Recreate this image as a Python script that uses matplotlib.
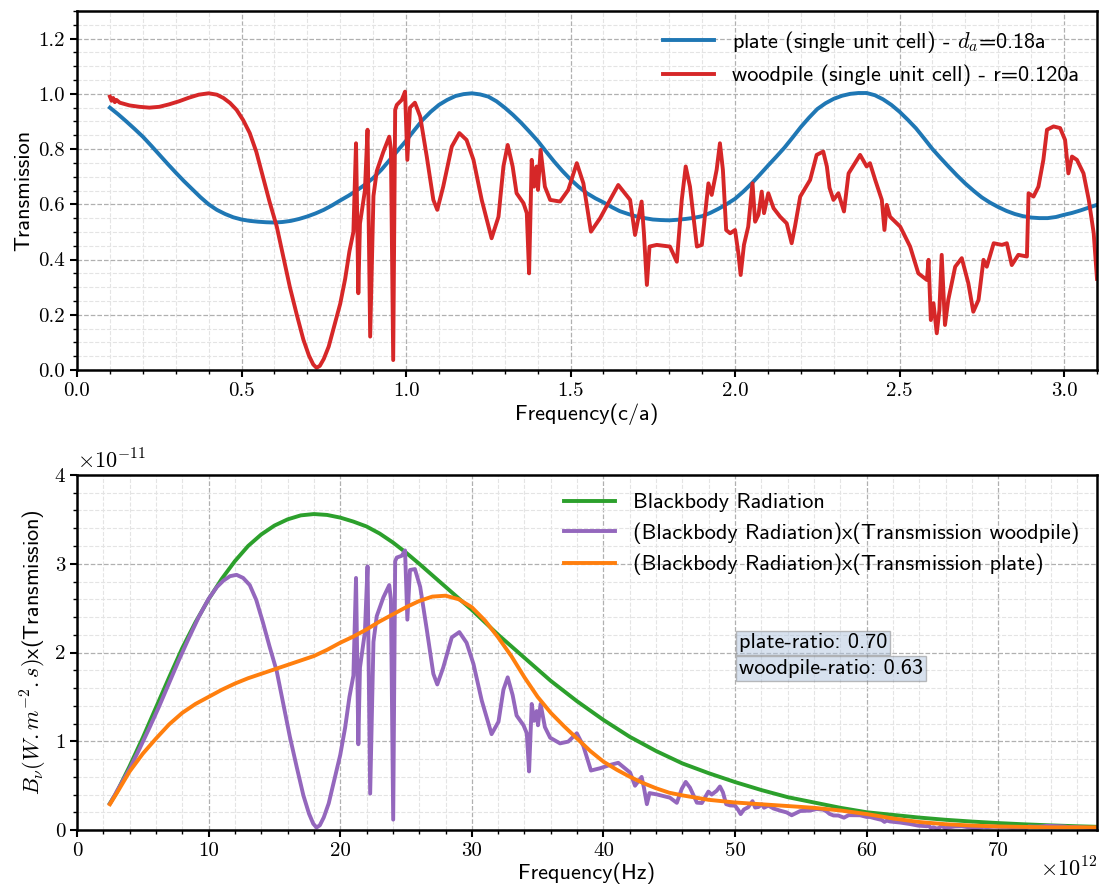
import numpy as np
import matplotlib
matplotlib.use('Agg')
import matplotlib.pyplot as plt
from matplotlib.ticker import MultipleLocator, FuncFormatter

# Transmission of the plate (c/a units)
plate_freq = [0.100, 0.125, 0.150, 0.175, 0.200, 0.225, 0.250, 0.275, 0.300, 0.325,
              0.350, 0.375, 0.400, 0.425, 0.450, 0.475, 0.500, 0.525, 0.550, 0.575,
              0.600, 0.625, 0.650, 0.675, 0.700, 0.725, 0.750, 0.775, 0.800, 0.825,
              0.850, 0.875, 0.900, 0.925, 0.950, 0.975, 1.000, 1.025, 1.050, 1.075,
              1.100, 1.125, 1.150, 1.175, 1.200, 1.225, 1.250, 1.275, 1.300, 1.325,
              1.350, 1.375, 1.400, 1.425, 1.450, 1.475, 1.500, 1.525, 1.550, 1.575,
              1.600, 1.625, 1.650, 1.675, 1.700, 1.725, 1.750, 1.775, 1.800, 1.825,
              1.850, 1.875, 1.900, 1.925, 1.950, 1.975, 2.000, 2.025, 2.050, 2.075,
              2.100, 2.125, 2.150, 2.175, 2.200, 2.225, 2.250, 2.275, 2.300, 2.325,
              2.350, 2.375, 2.400, 2.425, 2.450, 2.475, 2.500, 2.525, 2.550, 2.575,
              2.600, 2.625, 2.650, 2.675, 2.700, 2.725, 2.750, 2.775, 2.800, 2.825,
              2.850, 2.875, 2.900, 2.925, 2.950, 2.975, 3.000, 3.025, 3.050, 3.075, 3.100]
plate_trans = [0.950, 0.926, 0.900, 0.873, 0.845, 0.813, 0.780, 0.747, 0.715, 0.684,
               0.655, 0.626, 0.600, 0.580, 0.565, 0.553, 0.545, 0.540, 0.537, 0.535,
               0.534, 0.536, 0.540, 0.547, 0.556, 0.567, 0.580, 0.596, 0.614, 0.631,
               0.650, 0.671, 0.695, 0.725, 0.760, 0.795, 0.830, 0.868, 0.905, 0.935,
               0.960, 0.978, 0.992, 0.999, 1.002, 0.998, 0.990, 0.973, 0.950, 0.924,
               0.895, 0.863, 0.830, 0.792, 0.755, 0.721, 0.690, 0.663, 0.640, 0.622,
               0.607, 0.590, 0.575, 0.565, 0.556, 0.550, 0.545, 0.543, 0.542, 0.544,
               0.547, 0.551, 0.557, 0.569, 0.584, 0.601, 0.620, 0.646, 0.675, 0.707,
               0.740, 0.772, 0.805, 0.842, 0.880, 0.914, 0.945, 0.966, 0.982, 0.993,
               1.000, 1.003, 1.003, 0.995, 0.980, 0.960, 0.935, 0.906, 0.875, 0.838,
               0.800, 0.767, 0.735, 0.704, 0.675, 0.649, 0.625, 0.606, 0.590, 0.576,
               0.565, 0.557, 0.552, 0.550, 0.550, 0.554, 0.562, 0.569, 0.578, 0.588, 0.598]

# Transmission of the woodpile (c/a units)
wood_freq = [0.100, 0.105, 0.110, 0.115, 0.120, 0.130, 0.160, 0.190, 0.220, 0.250,
             0.280, 0.310, 0.340, 0.370, 0.400, 0.425, 0.445, 0.465, 0.485, 0.505,
             0.525, 0.545, 0.565, 0.585, 0.607, 0.627, 0.647, 0.668, 0.688, 0.705,
             0.718, 0.728, 0.738, 0.750, 0.765, 0.782, 0.800, 0.815, 0.828, 0.840,
             0.848, 0.851, 0.855, 0.860, 0.875,
             0.883, 0.891, 0.901, 0.911, 0.931, 0.949, 0.954, 0.961, 0.967, 0.972,
             0.987, 0.997, 1.004, 1.012, 1.027, 1.043, 1.063, 1.083, 1.095, 1.113,
             1.139, 1.162, 1.184, 1.205, 1.230, 1.260, 1.281, 1.296, 1.309, 1.324,
             1.336, 1.357, 1.367, 1.374, 1.382, 1.389, 1.397, 1.401, 1.409, 1.422,
             1.438, 1.468, 1.493, 1.519, 1.539, 1.562, 1.590, 1.620, 1.645, 1.681,
             1.696, 1.716, 1.723, 1.732, 1.740, 1.762, 1.802, 1.823, 1.838, 1.850,
             1.863, 1.884, 1.899, 1.919, 1.929, 1.944, 1.954, 1.963, 1.973, 1.985,
             2.000, 2.010, 2.017, 2.027, 2.040, 2.053, 2.061, 2.071, 2.081, 2.088,
             2.101, 2.117, 2.137, 2.157, 2.172, 2.182, 2.198, 2.228, 2.248, 2.268,
             2.279, 2.287, 2.299, 2.314, 2.331, 2.345, 2.355, 2.380, 2.400, 2.410,
             2.426, 2.446, 2.454, 2.461, 2.471, 2.502, 2.532, 2.557, 2.583, 2.588,
             2.595, 2.603, 2.613, 2.621, 2.628, 2.638, 2.648, 2.669, 2.689, 2.709,
             2.724, 2.740, 2.755, 2.765, 2.786, 2.811, 2.826, 2.841, 2.861, 2.887,
             2.892, 2.907, 2.922, 2.937, 2.948, 2.968, 2.988, 3.003, 3.013, 3.024,
             3.039, 3.059, 3.075, 3.090, 3.100]
wood_trans = [0.990, 0.975, 0.985, 0.970, 0.978, 0.968, 0.958, 0.953, 0.950, 0.953,
              0.962, 0.973, 0.986, 0.997, 1.002, 0.997, 0.985, 0.967, 0.942, 0.905,
              0.858, 0.790, 0.700, 0.610, 0.520, 0.410, 0.300, 0.200, 0.110, 0.052,
              0.020, 0.008, 0.015, 0.040, 0.085, 0.160, 0.240, 0.330, 0.430, 0.500,
              0.821, 0.600, 0.278, 0.530, 0.650,
              0.870, 0.121, 0.630, 0.720, 0.790, 0.845, 0.800, 0.036, 0.942, 0.960,
              0.978, 1.008, 0.761, 0.950, 0.968, 0.918, 0.773, 0.616, 0.580, 0.664,
              0.809, 0.858, 0.833, 0.761, 0.616, 0.477, 0.555, 0.737, 0.815, 0.737,
              0.640, 0.604, 0.568, 0.350, 0.761, 0.664, 0.737, 0.652, 0.797, 0.664,
              0.616, 0.610, 0.652, 0.749, 0.676, 0.501, 0.550, 0.616, 0.670, 0.616,
              0.489, 0.610, 0.495, 0.308, 0.447, 0.453, 0.447, 0.392, 0.616, 0.737,
              0.664, 0.447, 0.453, 0.676, 0.634, 0.725, 0.821, 0.725, 0.507, 0.495,
              0.507, 0.423, 0.344, 0.453, 0.519, 0.676, 0.537, 0.562, 0.646, 0.568,
              0.640, 0.586, 0.555, 0.531, 0.459, 0.519, 0.628, 0.688, 0.779, 0.791,
              0.737, 0.660, 0.616, 0.640, 0.574, 0.712, 0.731, 0.779, 0.737, 0.749,
              0.688, 0.616, 0.507, 0.598, 0.555, 0.519, 0.447, 0.350, 0.326, 0.399,
              0.181, 0.242, 0.133, 0.217, 0.417, 0.163, 0.254, 0.374, 0.405, 0.314,
              0.211, 0.254, 0.399, 0.374, 0.459, 0.453, 0.459, 0.380, 0.417, 0.411,
              0.640, 0.628, 0.664, 0.761, 0.870, 0.882, 0.876, 0.833, 0.712, 0.773,
              0.761, 0.712, 0.616, 0.495, 0.330]

# Blackbody radiation (1e12 Hz, 1e-11 units)
bb_thz = [2.5, 3, 4, 5, 6, 7, 8, 9, 10, 11, 12, 13, 14, 15, 16, 17, 18, 19, 20,
          21, 22, 23, 24, 25, 26, 27, 28, 29, 30, 31, 32, 33, 34, 35, 36, 37, 38,
          39, 40, 42, 44, 46, 48, 50, 52, 54, 56, 58, 60, 62, 64, 66, 68, 70, 72,
          74, 76, 77.5]
bb_val = [0.30, 0.42, 0.72, 1.04, 1.38, 1.72, 2.05, 2.34, 2.60, 2.83, 3.03, 3.20,
          3.33, 3.43, 3.50, 3.545, 3.56, 3.55, 3.52, 3.475, 3.42, 3.34, 3.24, 3.125,
          3.00, 2.87, 2.74, 2.61, 2.48, 2.34, 2.20, 2.07, 1.94, 1.81, 1.68, 1.565,
          1.45, 1.345, 1.24, 1.05, 0.89, 0.75, 0.64, 0.54, 0.45, 0.37, 0.31, 0.25,
          0.20, 0.17, 0.14, 0.115, 0.095, 0.078, 0.064, 0.052, 0.042, 0.036]

# Blackbody x plate transmission
bbp_thz = [2.5, 3, 4, 5, 6, 7, 8, 9, 10, 11, 12, 13, 14, 15, 16, 17, 18, 19, 20,
           21, 22, 23, 24, 25, 26, 27, 28, 29, 30, 31, 32, 33, 34, 35, 36, 37, 38,
           39, 40, 41, 42, 43, 44, 45, 46, 48, 50, 52, 54, 56, 58, 60, 62, 64, 66,
           68, 70, 72, 74, 76, 77.5]
bbp_val = [0.29, 0.41, 0.66, 0.86, 1.03, 1.19, 1.32, 1.42, 1.50, 1.58, 1.65, 1.71,
           1.76, 1.81, 1.86, 1.91, 1.96, 2.03, 2.11, 2.18, 2.26, 2.35, 2.43, 2.51,
           2.58, 2.63, 2.64, 2.60, 2.51, 2.36, 2.17, 1.96, 1.72, 1.50, 1.32, 1.17,
           1.03, 0.89, 0.77, 0.68, 0.60, 0.53, 0.47, 0.42, 0.39, 0.34, 0.31, 0.29,
           0.27, 0.25, 0.22, 0.18, 0.13, 0.09, 0.065, 0.05, 0.04, 0.035, 0.03, 0.03, 0.03]

# Blackbody x woodpile transmission (same points as wood_freq)
bbw_val = [0.297, 0.327, 0.364, 0.393, 0.430, 0.494, 0.690, 0.915, 1.150, 1.396,
           1.655, 1.917, 2.164, 2.400, 2.605, 2.737, 2.810, 2.860, 2.875, 2.840,
           2.760, 2.590, 2.340, 2.070, 1.790, 1.420, 1.050, 0.706, 0.390, 0.185,
           0.071, 0.028, 0.053, 0.142, 0.300, 0.566, 0.845, 1.155, 1.500, 1.740,
           2.840, 2.080, 0.966, 1.830, 2.230,
           2.970, 0.410, 2.120, 2.410, 2.620, 2.760, 2.600, 0.117, 3.030, 3.070,
           3.090, 3.150, 2.370, 2.930, 2.940, 2.740, 2.260, 1.760, 1.640, 1.830,
           2.170, 2.230, 2.110, 1.870, 1.460, 1.080, 1.220, 1.580, 1.720, 1.520,
           1.290, 1.180, 1.090, 0.660, 1.420, 1.230, 1.340, 1.180, 1.420, 1.160,
           1.040, 0.976, 0.996, 1.090, 0.946, 0.670, 0.696, 0.733, 0.757, 0.647,
           0.499, 0.598, 0.478, 0.291, 0.416, 0.401, 0.364, 0.306, 0.464, 0.542,
           0.477, 0.308, 0.304, 0.433, 0.399, 0.442, 0.490, 0.425, 0.291, 0.277,
           0.274, 0.224, 0.179, 0.231, 0.257, 0.325, 0.253, 0.259, 0.290, 0.251,
           0.275, 0.242, 0.218, 0.198, 0.166, 0.184, 0.214, 0.219, 0.237, 0.229,
           0.207, 0.182, 0.164, 0.163, 0.139, 0.167, 0.167, 0.166, 0.147, 0.147,
           0.131, 0.113, 0.091, 0.106, 0.096, 0.084, 0.067, 0.049, 0.043, 0.052,
           0.023, 0.031, 0.016, 0.026, 0.050, 0.019, 0.029, 0.040, 0.042, 0.031,
           0.020, 0.023, 0.035, 0.032, 0.037, 0.034, 0.034, 0.027, 0.028, 0.026,
           0.040, 0.038, 0.038, 0.042, 0.047, 0.045, 0.042, 0.039, 0.033, 0.034,
           0.032, 0.028, 0.023, 0.018, 0.012]

ca_to_hz = 25e12

plt.rcParams['font.family'] = 'cmss10'
plt.rcParams['mathtext.fontset'] = 'cm'
plt.rcParams['axes.formatter.use_mathtext'] = True
plt.rcParams['font.size'] = 16

fig = plt.figure(figsize=(11.05, 8.91), dpi=100)
ax1 = fig.add_axes([77 / 1105, 1 - 370 / 891, 1020 / 1105, 359 / 891])
ax2 = fig.add_axes([77 / 1105, 1 - 830 / 891, 1020 / 1105, 355 / 891])

lw = 2.8
ax1.plot(plate_freq, plate_trans, color='#1f77b4', lw=lw,
         label=r'plate (single unit cell) - $d_a$=0.18a')
ax1.plot(wood_freq, wood_trans, color='#d62728', lw=lw,
         label='woodpile (single unit cell) - r=0.120a')
ax1.set_xlim(0, 3.1)
ax1.set_ylim(0, 1.3)
ax1.xaxis.set_major_locator(MultipleLocator(0.5))
ax1.xaxis.set_minor_locator(MultipleLocator(0.1))
ax1.yaxis.set_major_locator(MultipleLocator(0.2))
ax1.yaxis.set_minor_locator(MultipleLocator(0.05))
ax1.xaxis.set_major_formatter(FuncFormatter(lambda v, p: f'{v:.1f}'))
ax1.yaxis.set_major_formatter(FuncFormatter(lambda v, p: f'{v:.1f}'))
ax1.set_xlabel('Frequency(c/a)', labelpad=3)
ax1.set_ylabel('Transmission')
ax1.legend(loc='upper right', frameon=False, handlelength=2.3,
           borderaxespad=0.4, labelspacing=0.45)

ax2.plot(np.array(bb_thz) * 1e12, np.array(bb_val) * 1e-11, color='#2ca02c', lw=lw,
         label='Blackbody Radiation')
ax2.plot(np.array(wood_freq) * ca_to_hz, np.array(bbw_val) * 1e-11, color='#9467bd',
         lw=lw, label='(Blackbody Radiation)x(Transmission woodpile)')
ax2.plot(np.array(bbp_thz) * 1e12, np.array(bbp_val) * 1e-11, color='#ff7f0e', lw=lw,
         label='(Blackbody Radiation)x(Transmission plate)')
ax2.set_xlim(0, 3.1 * ca_to_hz)
ax2.set_ylim(0, 4e-11)
ax2.xaxis.set_major_locator(MultipleLocator(10e12))
ax2.xaxis.set_minor_locator(MultipleLocator(2e12))
ax2.yaxis.set_major_locator(MultipleLocator(1e-11))
ax2.yaxis.set_minor_locator(MultipleLocator(0.2e-11))
ax2.xaxis.set_major_formatter(FuncFormatter(lambda v, p: f'{v / 1e12:.0f}'))
ax2.yaxis.set_major_formatter(FuncFormatter(lambda v, p: f'{v / 1e-11:.0f}'))
ax2.set_xlabel('Frequency(Hz)', labelpad=2)
ax2.set_ylabel(r'$B_\nu(W.m^{-2}.s)$x(Transmission)')
ax2.legend(loc='upper right', frameon=False, handlelength=2.3,
           borderaxespad=0.4, labelspacing=0.45)
ax2.text(0.0, 1.008, r'$\times10^{-11}$', transform=ax2.transAxes,
         ha='left', va='bottom', fontsize=16)
ax2.text(1.0, -0.075, r'$\times10^{12}$', transform=ax2.transAxes,
         ha='right', va='top', fontsize=16)

box = dict(boxstyle='square,pad=0.12', facecolor='#b0c4de', alpha=0.5,
           edgecolor='#808080')
ax2.text(50.3e12, 2.11e-11, 'plate-ratio: 0.70', va='center', bbox=box)
ax2.text(50.3e12, 1.82e-11, 'woodpile-ratio: 0.63', va='center', bbox=box)

for ax in (ax1, ax2):
    ax.grid(which='major', linestyle='--', color='#b0b0b0', lw=0.9)
    ax.grid(which='minor', linestyle='--', color='#e4e4e4', lw=0.8)
    ax.set_axisbelow(True)
    for s in ax.spines.values():
        s.set_linewidth(1.8)
    ax.tick_params(which='major', direction='out', length=5, width=1.5,
                   labelsize=15, labelfontfamily='cmr10')
    ax.tick_params(which='minor', direction='out', length=3, width=1.0)

fig.savefig('out.png', dpi=100)
